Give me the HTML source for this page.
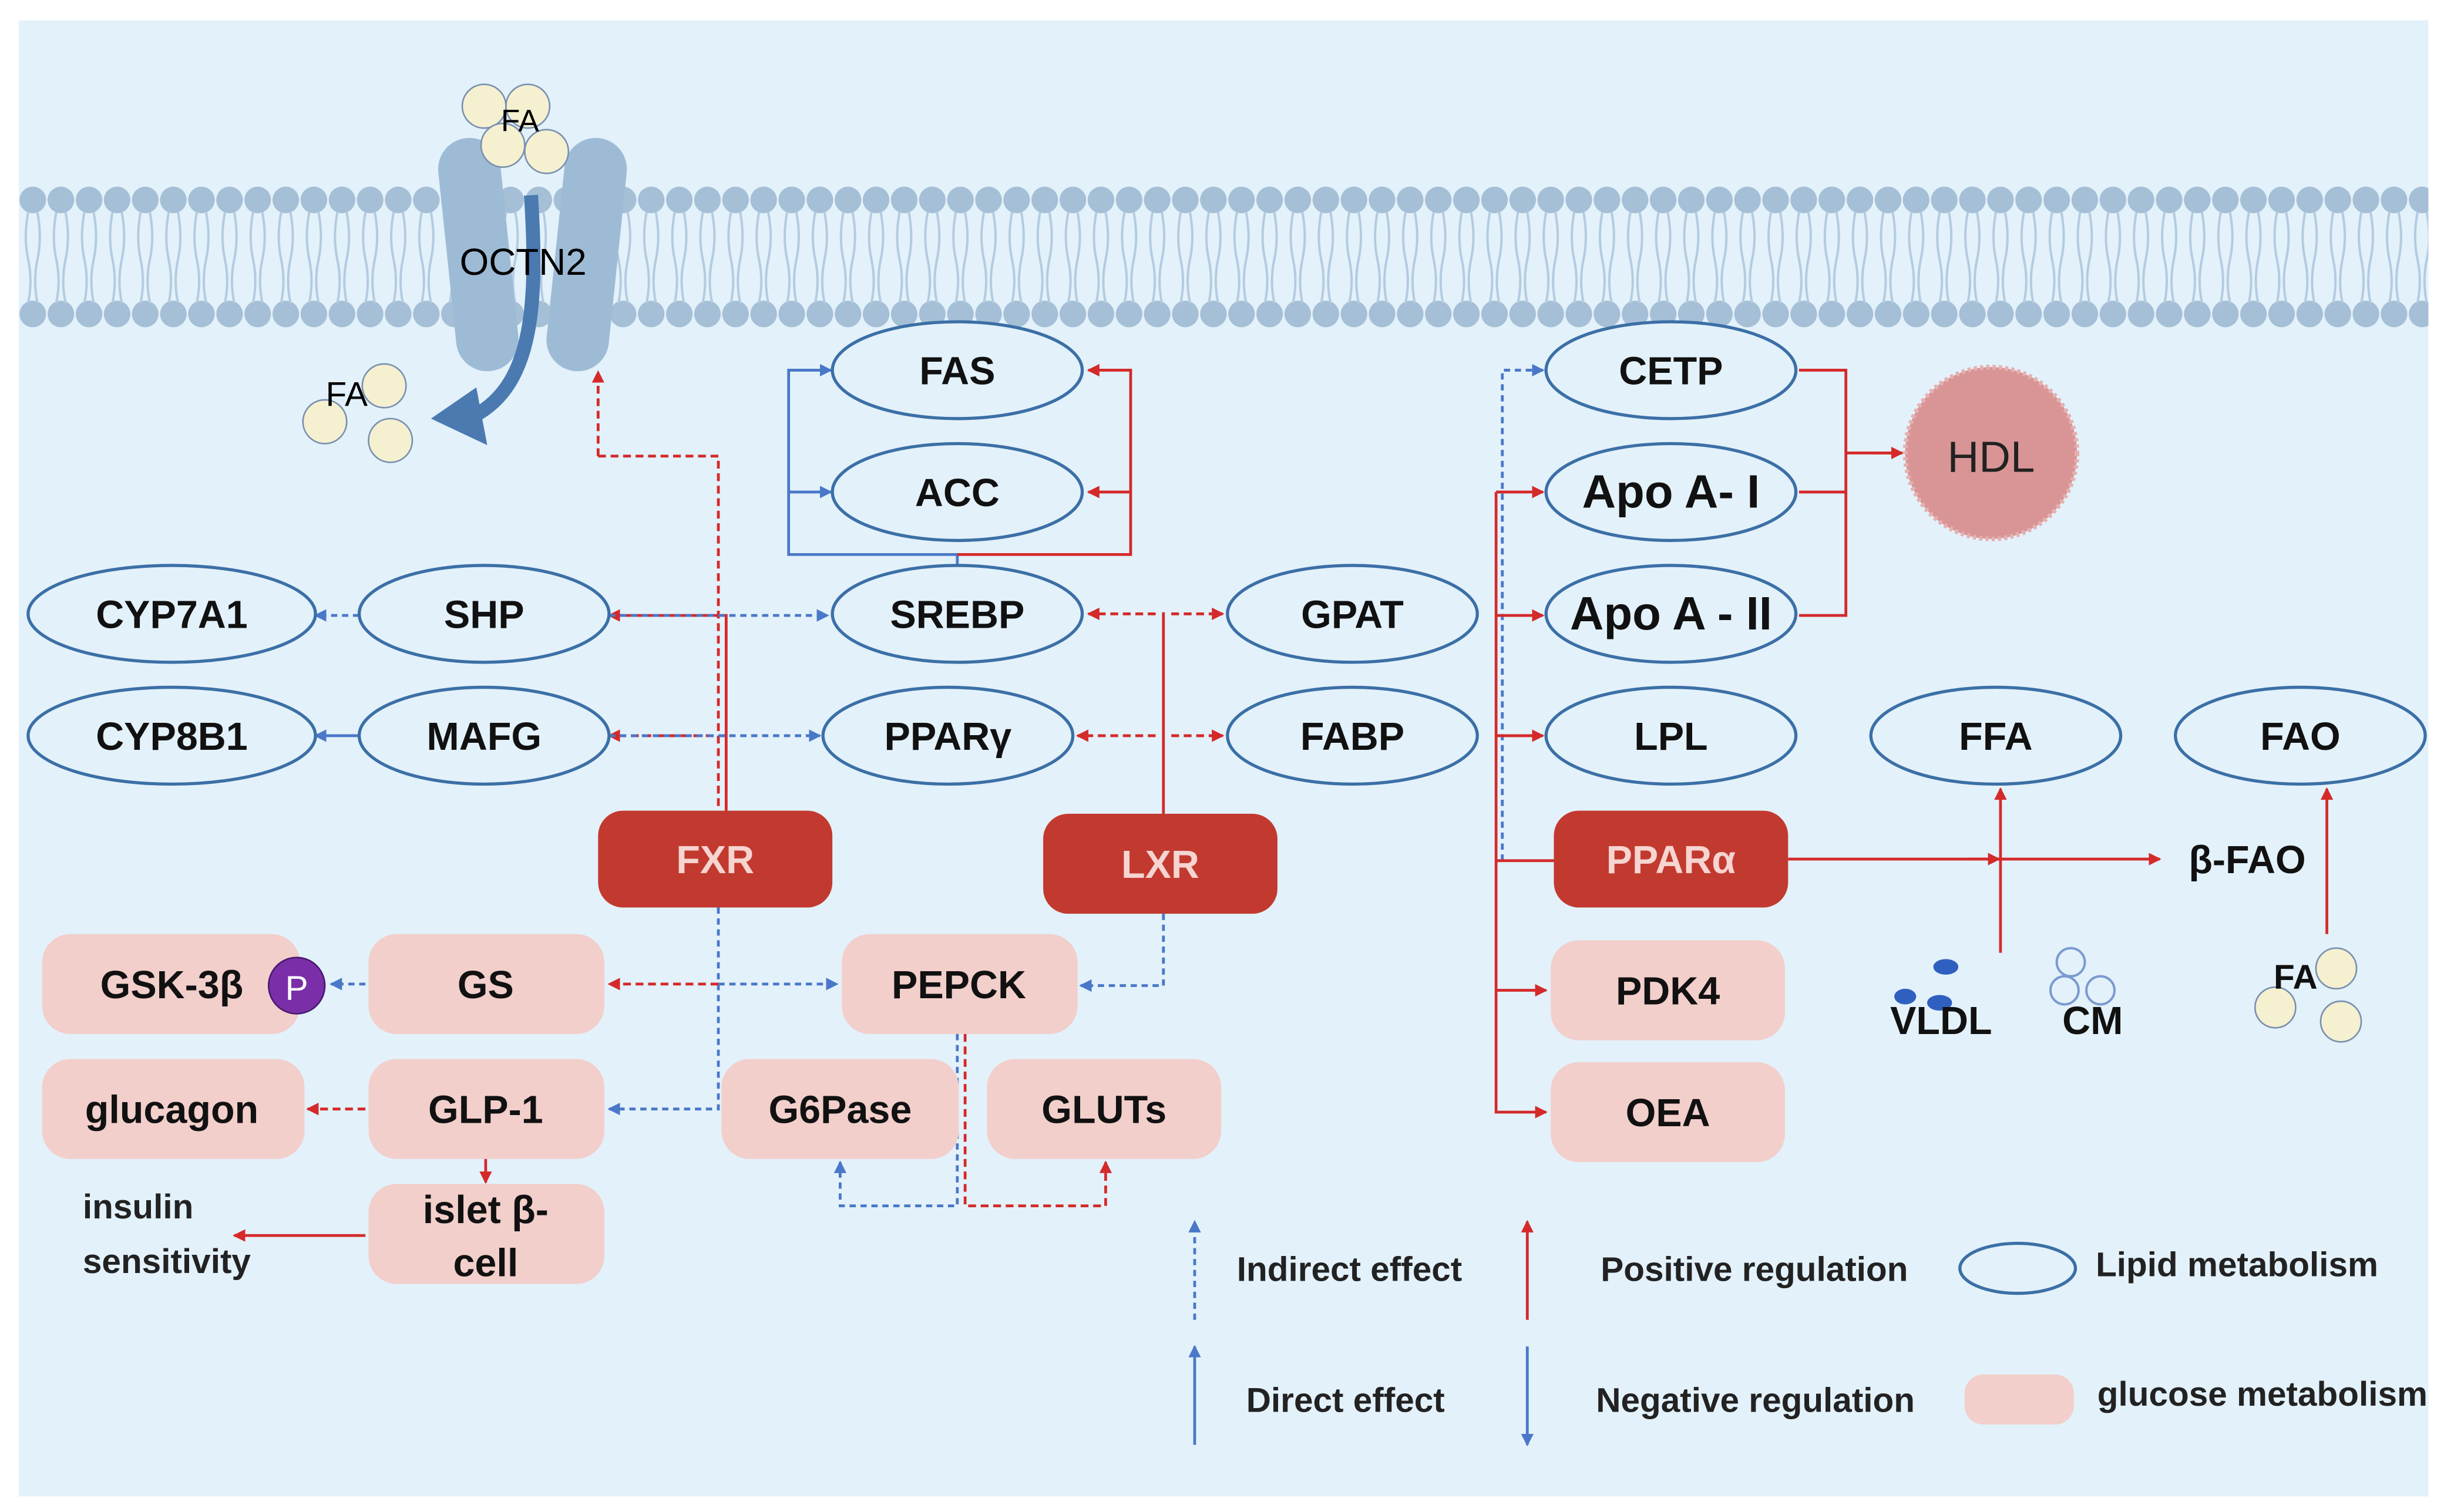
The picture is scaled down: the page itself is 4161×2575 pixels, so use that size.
<!DOCTYPE html>
<html><head><meta charset="utf-8"><style>
html,body{margin:0;padding:0;background:#fff;}
svg{display:block;}
text{font-family:"Liberation Sans",Arial,sans-serif;font-weight:bold;}
</style></head><body>
<svg width="4161" height="2575" viewBox="0 0 1565 968" preserveAspectRatio="none" xmlns="http://www.w3.org/2000/svg">
<defs>
<marker id="ar" markerWidth="8" markerHeight="8" refX="7" refY="4" orient="auto" markerUnits="userSpaceOnUse"><path d="M0,0 L8,4 L0,8 z" fill="#d42a2a"/></marker>
<marker id="ab" markerWidth="8" markerHeight="8" refX="7" refY="4" orient="auto" markerUnits="userSpaceOnUse"><path d="M0,0 L8,4 L0,8 z" fill="#4a78c8"/></marker>
<pattern id="mem" x="12" y="0" width="18" height="968" patternUnits="userSpaceOnUse">
<circle cx="9" cy="128" r="8.5" fill="#a4bfd6"/>
<circle cx="9" cy="201" r="8.5" fill="#a4bfd6"/>
<path d="M6,136 q-3,16 0,30 q3,14 0,28 M12,136 q3,16 0,30 q-3,14 0,28" stroke="#b3cbe0" stroke-width="1.5" fill="none"/>
</pattern>
</defs>
<rect x="0" y="0" width="1565" height="968" fill="#fff"/>
<rect x="12" y="13" width="1543" height="945" fill="#e3f1fa"/>
<rect x="12" y="118" width="1543" height="93" fill="url(#mem)"/>
<!-- OCTN2 -->
<rect x="286" y="88" width="40" height="150" rx="20" fill="#9ebbd6" transform="rotate(-6 306 160)"/>
<rect x="356" y="88" width="40" height="150" rx="20" fill="#9ebbd6" transform="rotate(6 376 160)"/>
<circle cx="310" cy="68" r="14" fill="#f5f0d0" stroke="#7a90b0"/>
<circle cx="338" cy="68" r="14" fill="#f5f0d0" stroke="#7a90b0"/>
<circle cx="322" cy="93" r="14" fill="#f5f0d0" stroke="#7a90b0"/>
<circle cx="350" cy="97" r="14" fill="#f5f0d0" stroke="#7a90b0"/>
<text x="333" y="84" font-size="20" text-anchor="middle" style="font-weight:normal">FA</text>
<path d="M340,125 C345,200 340,250 300,268" stroke="#4a7ab0" stroke-width="9" fill="none"/>
<path d="M276,268 L305,248 L312,285 z" fill="#4a7ab0"/>
<text x="335" y="176" font-size="24" text-anchor="middle" style="font-weight:normal">OCTN2</text>
<circle cx="246" cy="247" r="14" fill="#f5f0d0" stroke="#7a90b0"/>
<circle cx="208" cy="270" r="14" fill="#f5f0d0" stroke="#7a90b0"/>
<circle cx="250" cy="282" r="14" fill="#f5f0d0" stroke="#7a90b0"/>
<text x="222" y="260" font-size="22" text-anchor="middle" style="font-weight:normal">FA</text>

<g fill="none" stroke-width="1.8">
<path d="M383,292 H460 V519" stroke="#d42a2a" stroke-dasharray="5,3"/>
<path d="M383,292 V238" stroke="#d42a2a" stroke-dasharray="5,3" marker-end="url(#ar)"/>
<path d="M465,519 V394 H390" stroke="#d42a2a" marker-end="url(#ar)"/>
<path d="M465,471 H390" stroke="#d42a2a" stroke-dasharray="5,3" marker-end="url(#ar)"/>
<path d="M390,394 H530" stroke="#4a78c8" stroke-dasharray="4,3" marker-end="url(#ab)"/>
<path d="M390,471 H525" stroke="#4a78c8" stroke-dasharray="4,3" marker-end="url(#ab)"/>
<path d="M230,394 H202" stroke="#4a78c8" stroke-dasharray="4,3" marker-end="url(#ab)"/>
<path d="M230,471 H202" stroke="#4a78c8" marker-end="url(#ab)"/>
<path d="M613,363 V355 H505 V237 H532" stroke="#4a78c8" marker-end="url(#ab)"/>
<path d="M505,315 H532" stroke="#4a78c8" marker-end="url(#ab)"/>
<path d="M613,355 H724 V237 H697" stroke="#d42a2a" marker-end="url(#ar)"/>
<path d="M724,315 H697" stroke="#d42a2a" marker-end="url(#ar)"/>
<path d="M745,521 V392" stroke="#d42a2a"/>
<path d="M740,393 H697" stroke="#d42a2a" stroke-dasharray="5,3" marker-end="url(#ar)"/>
<path d="M750,393 H783" stroke="#d42a2a" stroke-dasharray="5,3" marker-end="url(#ar)"/>
<path d="M740,471 H690" stroke="#d42a2a" stroke-dasharray="5,3" marker-end="url(#ar)"/>
<path d="M750,471 H783" stroke="#d42a2a" stroke-dasharray="5,3" marker-end="url(#ar)"/>
<path d="M460,581 V710 H390" stroke="#4a78c8" stroke-dasharray="4,3" marker-end="url(#ab)"/>
<path d="M460,630 H536" stroke="#4a78c8" stroke-dasharray="4,3" marker-end="url(#ab)"/>
<path d="M460,630 H390" stroke="#d42a2a" stroke-dasharray="5,3" marker-end="url(#ar)"/>
<path d="M745,585 V631 H692" stroke="#4a78c8" stroke-dasharray="4,3" marker-end="url(#ab)"/>
<path d="M234,630 H212" stroke="#4a78c8" stroke-dasharray="4,3" marker-end="url(#ab)"/>
<path d="M234,710 H197" stroke="#d42a2a" stroke-dasharray="5,3" marker-end="url(#ar)"/>
<path d="M311,742 V757" stroke="#d42a2a" marker-end="url(#ar)"/>
<path d="M234,791 H150" stroke="#d42a2a" marker-end="url(#ar)"/>
<path d="M613,662 V772 H538 V744" stroke="#4a78c8" stroke-dasharray="4,3" marker-end="url(#ab)"/>
<path d="M618,662 V772 H708 V744" stroke="#d42a2a" stroke-dasharray="5,3" marker-end="url(#ar)"/>
<path d="M962,551 V237 H988" stroke="#4a78c8" stroke-dasharray="4,3" marker-end="url(#ab)"/>
<path d="M958,551 H995" stroke="#d42a2a"/>
<path d="M958,315 V712 H990" stroke="#d42a2a" marker-end="url(#ar)"/>
<path d="M958,315 H988" stroke="#d42a2a" marker-end="url(#ar)"/>
<path d="M958,394 H988" stroke="#d42a2a" marker-end="url(#ar)"/>
<path d="M958,471 H988" stroke="#d42a2a" marker-end="url(#ar)"/>
<path d="M958,634 H990" stroke="#d42a2a" marker-end="url(#ar)"/>
<path d="M1152,237 H1182 V394 H1152 M1152,315 H1182 M1182,290 H1218" stroke="#d42a2a"/>
<path d="M1200,290 H1218" stroke="#d42a2a" marker-end="url(#ar)"/>
<path d="M1145,550 H1383" stroke="#d42a2a" marker-end="url(#ar)"/>
<path d="M1260,550 H1280" stroke="#d42a2a" marker-end="url(#ar)"/>
<path d="M1281,610 V505" stroke="#d42a2a" marker-end="url(#ar)"/>
<path d="M1490,598 V505" stroke="#d42a2a" marker-end="url(#ar)"/>
<path d="M765,845 V782" stroke="#4a78c8" stroke-dasharray="4,3" marker-end="url(#ab)"/>
<path d="M978,845 V782" stroke="#d42a2a" marker-end="url(#ar)"/>
<path d="M765,925 V862" stroke="#4a78c8" marker-end="url(#ab)"/>
<path d="M978,862 V925" stroke="#4a78c8" marker-end="url(#ab)"/>
</g>

<g fill="#e3f1fa" stroke="#3b6fa6" stroke-width="2">
<ellipse cx="613" cy="237" rx="80" ry="31"/>
<ellipse cx="613" cy="315" rx="80" ry="31"/>
<ellipse cx="613" cy="393" rx="80" ry="31"/>
<ellipse cx="607" cy="471" rx="80" ry="31"/>
<ellipse cx="866" cy="393" rx="80" ry="31"/>
<ellipse cx="866" cy="471" rx="80" ry="31"/>
<ellipse cx="310" cy="393" rx="80" ry="31"/>
<ellipse cx="310" cy="471" rx="80" ry="31"/>
<ellipse cx="110" cy="393" rx="92" ry="31"/>
<ellipse cx="110" cy="471" rx="92" ry="31"/>
<ellipse cx="1070" cy="237" rx="80" ry="31"/>
<ellipse cx="1070" cy="315" rx="80" ry="31"/>
<ellipse cx="1070" cy="393" rx="80" ry="31"/>
<ellipse cx="1070" cy="471" rx="80" ry="31"/>
<ellipse cx="1278" cy="471" rx="80" ry="31"/>
<ellipse cx="1473" cy="471" rx="80" ry="31"/>
<ellipse cx="1292" cy="812" rx="37" ry="16"/>
</g>
<g font-size="25" text-anchor="middle" fill="#111">
<text x="613" y="246">FAS</text><text x="613" y="324">ACC</text><text x="613" y="402">SREBP</text>
<text x="607" y="480">PPARγ</text><text x="866" y="402">GPAT</text><text x="866" y="480">FABP</text>
<text x="310" y="402">SHP</text><text x="310" y="480">MAFG</text>
<text x="110" y="402">CYP7A1</text><text x="110" y="480">CYP8B1</text>
<text x="1070" y="246">CETP</text><text x="1070" y="325" font-size="30">Apo A- I</text><text x="1070" y="403" font-size="30">Apo A - II</text>
<text x="1070" y="480">LPL</text><text x="1278" y="480">FFA</text><text x="1473" y="480">FAO</text>
</g>
<circle cx="1275" cy="290" r="55" fill="#d99595" stroke="#e6b0b0" stroke-width="3" stroke-dasharray="2,2"/>
<text x="1275" y="302" font-size="28" text-anchor="middle" fill="#222" style="font-weight:normal">HDL</text>
<g fill="#c23a2f">
<rect x="383" y="519" width="150" height="62" rx="16"/>
<rect x="668" y="521" width="150" height="64" rx="16"/>
<rect x="995" y="519" width="150" height="62" rx="16"/>
</g>
<g font-size="25" text-anchor="middle" fill="#f6d4d0" style="font-weight:normal">
<text x="458" y="559">FXR</text><text x="743" y="562">LXR</text><text x="1070" y="559">PPARα</text>
</g>
<g fill="#f2cfcb">
<rect x="27" y="598" width="165" height="64" rx="18"/>
<rect x="236" y="598" width="151" height="64" rx="18"/>
<rect x="539" y="598" width="151" height="64" rx="18"/>
<rect x="27" y="678" width="168" height="64" rx="18"/>
<rect x="236" y="678" width="151" height="64" rx="18"/>
<rect x="462" y="678" width="152" height="64" rx="18"/>
<rect x="632" y="678" width="150" height="64" rx="18"/>
<rect x="236" y="758" width="151" height="64" rx="18"/>
<rect x="993" y="602" width="150" height="64" rx="18"/>
<rect x="993" y="680" width="150" height="64" rx="18"/>
<rect x="1258" y="880" width="70" height="32" rx="12"/>
</g>
<circle cx="190" cy="631" r="18" fill="#7a2fa8" stroke="#4a1a70"/>
<text x="190" y="640" font-size="22" text-anchor="middle" fill="#fff" style="font-weight:normal">P</text>
<g font-size="25" text-anchor="middle" fill="#111">
<text x="110" y="639">GSK-3β</text><text x="311" y="639">GS</text><text x="614" y="639">PEPCK</text>
<text x="110" y="719">glucagon</text><text x="311" y="719">GLP-1</text><text x="538" y="719">G6Pase</text>
<text x="707" y="719">GLUTs</text><text x="311" y="783">islet β-</text><text x="311" y="817">cell</text>
<text x="1068" y="643">PDK4</text><text x="1068" y="721">OEA</text>
<text x="1439" y="559">β-FAO</text>
</g>
<g font-size="22" fill="#222">
<text x="53" y="780">insulin</text><text x="53" y="815">sensitivity</text>
<text x="792" y="820">Indirect effect</text><text x="1025" y="820">Positive regulation</text>
<text x="1342" y="817">Lipid metabolism</text>
<text x="798" y="904">Direct effect</text><text x="1022" y="904">Negative regulation</text>
<text x="1343" y="900">glucose metabolism</text>
</g>
<g fill="#2f5fbf">
<ellipse cx="1246" cy="619" rx="8" ry="5"/><ellipse cx="1220" cy="638" rx="7" ry="5"/>
<ellipse cx="1242" cy="642" rx="8" ry="5"/>
</g>
<g fill="none" stroke="#7a9ad0" stroke-width="1.5">
<circle cx="1326" cy="616" r="9"/><circle cx="1322" cy="634" r="9"/><circle cx="1345" cy="634" r="9"/>
</g>
<text x="1243" y="662" font-size="25" text-anchor="middle" fill="#111">VLDL</text>
<text x="1340" y="662" font-size="25" text-anchor="middle" fill="#111">CM</text>
<circle cx="1496" cy="620" r="13" fill="#f5f0d0" stroke="#7a90b0"/>
<circle cx="1457" cy="645" r="13" fill="#f5f0d0" stroke="#7a90b0"/>
<circle cx="1499" cy="654" r="13" fill="#f5f0d0" stroke="#7a90b0"/>
<text x="1470" y="633" font-size="22" text-anchor="middle" fill="#111">FA</text>
</svg>
</body></html>
